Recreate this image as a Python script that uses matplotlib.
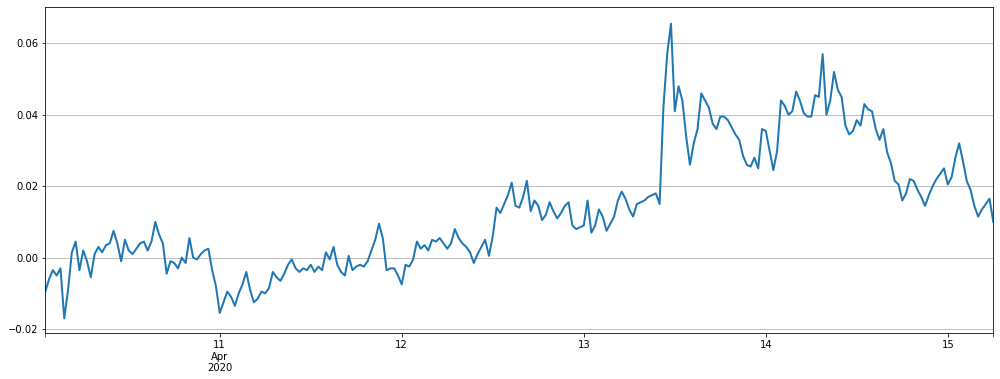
import matplotlib
matplotlib.use('Agg')
import matplotlib.pyplot as plt
import numpy as np
import pandas as pd

# readings every 30 minutes, in units of 1e-3
apr10 = [-9.5, -6, -3.5, -5, -3, -17, -9, 1.5, 4.5, -3.5, 2, -1, -5.5, 1, 3, 1.5,
         3.5, 4, 7.5, 4, -1, 5, 2, 1, 2.5, 4, 4.5, 2, 4.5, 10, 6.5, 4, -4.5, -1,
         -1.5, -3, 0, -1.5, 5.5, 0, -0.5, 1, 2]
apr11 = [2.5, -3.5, -8, -15.5, -12.5, -9.5, -11, -13.5, -10, -7.5, -4, -9, -12.5,
         -11.5, -9.5, -10, -8.5, -4, -5.5, -6.5, -4.5, -2, -0.5, -3, -4, -3, -3.5,
         -2, -4, -2.5, -3.5, 1.5, -0.5, 3, -2, -4, -5, 0.5, -3.5, -2.5]
apr12 = [-2, -2.5, -1, 2, 5, 9.5, 5.5, -3.5, -3, -3, -5, -7.5, -2, -2.5, -0.5, 4.5,
         2.5, 3.5, 2, 5, 4.5, 5.5, 4, 2.5, 4, 8, 5.5, 4, 3, 1.5, -1.5, 1, 3, 5, 0.5,
         6, 14, 12.5, 15, 17.5, 21]
apr13 = [14.5, 14, 17, 21.5, 13, 16, 14.5, 10.5, 12, 15.5, 13, 11, 12.5, 14.5, 15.5,
         9, 8, 8.5, 9, 16, 7, 9, 13.5, 11.5, 7.5, 9.5, 11.5, 16, 18.5, 16.5, 13.5,
         11.5, 15, 15.5, 16, 17, 17.5, 18, 15]
apr13b = [42, 57, 65.5, 41, 48, 44, 34, 26, 32, 36, 46, 44, 42, 37.5, 36, 39.5, 39.5,
          38.5, 36.5, 34.5, 33, 28.5, 26, 25.5, 28, 25, 36, 35.5, 30, 24.5, 30, 44,
          42.5, 40, 41, 46.5, 44, 40.5, 39.5, 39.5, 45.5, 45]
apr14 = [57, 40, 44, 52, 47, 45, 37, 34.5, 35.5, 38.5, 37, 43, 41.5, 41, 36, 33, 36,
         29.5, 26.5, 21.5, 20.5, 16, 18, 22, 21.5, 19, 17, 14.5, 17.5, 20, 22, 23.5,
         25, 20.5, 22.5, 28, 32, 27, 21.5, 19, 14.5, 11.5, 13.5, 15, 16.5, 10]

values = np.array(apr10 + apr11 + apr12 + apr13 + apr13b + apr14) / 1000
times = pd.date_range('2020-04-10 01:00', periods=len(values), freq='30min')

day_ticks = pd.date_range('2020-04-11', '2020-04-15', freq='D')
day_labels = ['11\nApr\n2020', '12', '13', '14', '15']

fig = plt.figure(figsize=(1000 / 72, 379 / 72), dpi=72)
ax = fig.add_axes([0.0453, 0.1214, 0.948, 0.8593])
ax.plot(times, values, color='#1f77b4', linewidth=2.0)

ax.set_xlim(times[0], times[-1])
ax.set_ylim(-0.0211, 0.0701)
ax.set_xticks(day_ticks)
ax.set_xticklabels(day_labels)
ax.set_xticks([times[0], times[-1]], minor=True)
ax.tick_params(axis='x', which='minor', length=3.5)
ax.set_yticks([-0.02, 0.0, 0.02, 0.04, 0.06])
ax.set_yticklabels(['−0.02', '0.00', '0.02', '0.04', '0.06'])
ax.grid(axis='y')

fig.savefig('out.png', dpi=72)
